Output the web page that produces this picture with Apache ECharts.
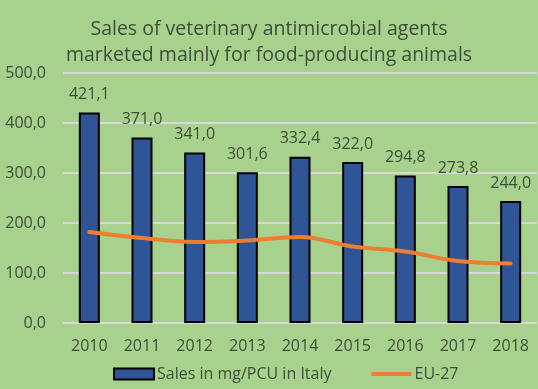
<!DOCTYPE html>
<html><head><meta charset="utf-8">
<script src="https://cdn.jsdelivr.net/npm/echarts@6/dist/echarts.min.js"></script>
<style>html,body{margin:0;padding:0;background:#A9D18E}#c{width:538px;height:389px}</style>
</head><body><div id="c"></div>
<script>
const years = ['2010','2011','2012','2013','2014','2015','2016','2017','2018'];
const italy = [421.1, 371.0, 341.0, 301.6, 332.4, 322.0, 294.8, 273.8, 244.0];
const eu27 = [182, 170, 162, 165, 172, 153, 143, 124, 119];
const titleText = 'Sales of veterinary antimicrobial agents\nmarketed mainly for food-producing animals';
const txt = '#3B4E37';
const font = 'Open Sans';
const chart = echarts.init(document.getElementById('c'));
const fmt = v => v.toFixed(1).replace('.', ',');
const lineIcon = 'path://M0,0 L0.01,0 L0.01,0.01 Z M0,3.5 L40,3.5 L40,7.5 L0,7.5 Z M0,11 L0.01,11 L0.01,10.99 Z';
chart.setOption({
  backgroundColor: '#A9D18E',
  title: { text: titleText, left: 'center', top: 11,
    textStyle: { color: txt, fontSize: 19.5, fontWeight: 'normal', fontFamily: font, lineHeight: 26 } },
  grid: { left: 63, right: 1, top: 73, bottom: 66 },
  legend: { bottom: 2, left: 108, itemGap: 40, itemWidth: 40, itemHeight: 11,
    textStyle: { color: txt, fontSize: 16, fontFamily: font, padding: [0,0,0,-2] },
    data: [{ name: 'Sales in mg/PCU in Italy', icon: 'rect' }, { name: 'EU-27', icon: lineIcon }] },
  xAxis: { type: 'category', data: years,
    axisLine: { show: false }, axisTick: { show: false },
    axisLabel: { color: txt, fontSize: 16, fontFamily: font, margin: 15 } },
  yAxis: { type: 'value', min: 0, max: 500, interval: 100,
    axisLabel: { color: txt, fontSize: 16, fontFamily: font, formatter: v => fmt(v), margin: 17 },
    splitLine: { lineStyle: { color: '#D9D9D9', width: 2 } } },
  series: [
    { name: 'Sales in mg/PCU in Italy', type: 'bar', data: italy, barWidth: 21,
      itemStyle: { color: '#2F5597', borderColor: '#000', borderWidth: 2 },
      label: { show: true, position: 'top', distance: 10, color: txt, fontSize: 16, fontFamily: font, formatter: p => fmt(p.value) } },
    { name: 'EU-27', type: 'line', data: eu27, smooth: 0.4, symbol: 'none',
      lineStyle: { color: '#ED7D31', width: 4, cap: 'round' }, itemStyle: { color: '#ED7D31' } }
  ]
});
</script></body></html>
